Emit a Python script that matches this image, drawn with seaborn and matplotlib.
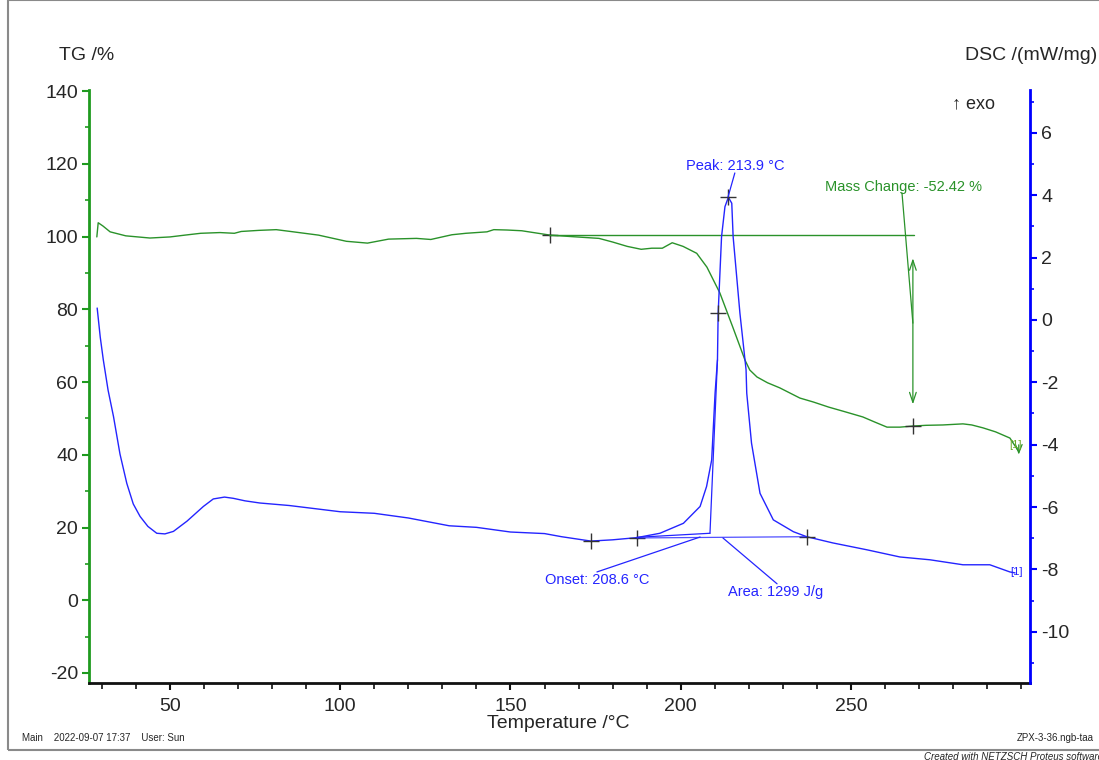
import matplotlib
matplotlib.use("Agg")
import matplotlib.pyplot as plt
from matplotlib.patches import Rectangle
from matplotlib.ticker import MultipleLocator, FixedLocator
import seaborn as sns
import pandas as pd

# TG curve (temperature in degC, mass in %)
tg_temp = [28.5, 28.9, 30.3, 32.4, 37.0, 44.1, 50.0, 54.4, 59.0, 64.7, 68.9, 70.9, 76.0,
           81.2, 85.4, 93.6, 101.8, 108.0, 114.2, 122.4, 126.6, 132.8, 136.9, 143.1,
           145.1, 149.0, 153.3, 161.6, 167.8, 176.0, 180.0, 184.3, 188.4, 191.5, 194.6,
           197.5, 200.7, 204.7, 207.7, 211.5, 215.3, 218.9, 220.3, 222.4, 225.5, 229.1,
           235.0, 239.0, 243.5, 248.0, 253.5, 257.0, 260.6, 264.4, 268.2, 272.0, 277.0,
           282.9, 285.5, 288.8, 292.5, 296.7, 299.0]
tg_mass = [99.9, 103.8, 102.9, 101.3, 100.2, 99.6, 99.9, 100.4, 100.9, 101.1, 100.9, 101.4, 101.7,
           101.9, 101.4, 100.4, 98.7, 98.2, 99.3, 99.5, 99.2, 100.5, 100.9, 101.3,
           101.9, 101.8, 101.6, 100.4, 100.0, 99.5, 98.5, 97.3, 96.5, 96.8, 96.8,
           98.3, 97.3, 95.4, 91.6, 84.5, 75.1, 66.0, 63.3, 61.4, 59.8, 58.4,
           55.6, 54.5, 53.1, 51.9, 50.4, 49.0, 47.6, 47.6, 47.9, 48.1, 48.2,
           48.5, 48.2, 47.4, 46.3, 44.6, 41.3]

# DSC curve (temperature in degC, heat flow in mW/mg)
dsc_temp = [28.6, 29.5, 30.4, 31.8, 33.4, 35.3, 37.3, 39.2, 41.2, 43.5, 46.1, 48.5, 51.0,
            55.0, 59.8, 62.7, 66.0, 68.6, 72.0, 76.4, 85.0,
            100.0, 110.0, 120.0, 132.0, 140.0, 150.0, 160.0, 165.0, 173.6, 180.0, 187.1,
            193.9, 200.8, 205.7, 207.6, 209.1, 210.1, 210.8, 211.0, 212.0, 213.0, 214.0,
            215.0, 215.4, 217.4, 219.2, 219.4, 220.8, 223.3, 227.2, 233.1, 237.0, 244.7,
            254.7, 264.4, 273.2, 282.9, 290.8, 296.7, 298.2]
dsc_flow = [0.38, -0.55, -1.28, -2.25, -3.1, -4.3, -5.24, -5.9, -6.3, -6.62, -6.84, -6.86, -6.78,
            -6.45, -5.98, -5.74, -5.68, -5.72, -5.8, -5.87, -5.95,
            -6.15, -6.2, -6.35, -6.6, -6.65, -6.8, -6.85, -6.95, -7.09, -7.05, -6.98,
            -6.84, -6.52, -5.98, -5.34, -4.49, -2.35, -1.28, 0.21, 2.67, 3.63, 3.93,
            3.74, 2.67, 0.21, -1.6, -2.35, -3.95, -5.56, -6.41, -6.79, -6.95, -7.15,
            -7.37, -7.6, -7.69, -7.85, -7.85, -8.08, -8.11]

# evaluation marks
tg_marks_temp = [161.6, 268.2]
tg_marks_mass = [100.4, 47.98]
dsc_marks_temp = [213.9, 211.0, 173.6, 187.1, 237.0]
dsc_marks_flow = [3.93, 0.21, -7.09, -6.99, -6.95]

temp_ticks = [50, 100, 150, 200, 250]

GREEN = '#2a922a'
GREEN_AX = '#1f9a1f'
BLUE = '#2424ff'
BLUE_AX = '#0000ff'

sns.set_theme(style='ticks')
plt.rcParams['font.family'] = ['Liberation Sans', 'DejaVu Sans']
plt.rcParams['axes.unicode_minus'] = False

fig = plt.figure(figsize=(10.99, 7.6), dpi=100)
ax = fig.add_axes([89 / 1099, 1 - 683 / 760, (1030 - 89) / 1099, (683 - 90) / 760])
ax2 = ax.twinx()

tg_df = pd.DataFrame({'T': tg_temp, 'TG': tg_mass})
dsc_df = pd.DataFrame({'T': dsc_temp, 'DSC': dsc_flow})
sns.lineplot(data=tg_df, x='T', y='TG', ax=ax, color=GREEN, lw=1.0, sort=False, estimator=None)
sns.lineplot(data=dsc_df, x='T', y='DSC', ax=ax2, color=BLUE, lw=1.0, sort=False, estimator=None)

ax.set_xlim(26.2, 302.6)
ax.set_ylim(-22.75, 140.3)
ax2.set_ylim(-11.64, 7.37)
ax.set_xlabel('')
ax.set_ylabel('')
ax2.set_ylabel('')

ax.xaxis.set_major_locator(FixedLocator(temp_ticks))
ax.xaxis.set_minor_locator(MultipleLocator(10))
ax.yaxis.set_major_locator(MultipleLocator(20))
ax.yaxis.set_minor_locator(MultipleLocator(10))
ax2.yaxis.set_major_locator(MultipleLocator(2))
ax2.yaxis.set_minor_locator(MultipleLocator(1))

for a in (ax, ax2):
    a.spines['top'].set_visible(False)
ax.spines['right'].set_visible(False)
ax2.spines['left'].set_visible(False)
ax2.spines['bottom'].set_visible(False)
ax.spines['left'].set_color(GREEN_AX)
ax.spines['left'].set_linewidth(2)
ax.spines['bottom'].set_color('#111111')
ax.spines['bottom'].set_linewidth(2)
ax2.spines['right'].set_color(BLUE_AX)
ax2.spines['right'].set_linewidth(2)

ax.tick_params(axis='x', which='major', length=5, width=1.5, color='#111111', labelsize=14, pad=6)
ax.tick_params(axis='x', which='minor', length=4, width=1.2, color='#111111')
ax.tick_params(axis='y', which='major', length=5, width=1.5, color=GREEN_AX, labelsize=14, pad=3)
ax.tick_params(axis='y', which='minor', length=3, width=1.2, color=GREEN_AX)
ax2.tick_params(axis='y', which='major', length=5, width=1.5, color=BLUE_AX, labelsize=14, pad=3)
ax2.tick_params(axis='y', which='minor', length=3, width=1.2, color=BLUE_AX)

# evaluation crosses
ax.plot(tg_marks_temp, tg_marks_mass, ls='none', marker='+', ms=12, mew=1.0, color='#333333')
ax2.plot(dsc_marks_temp, dsc_marks_flow, ls='none', marker='+', ms=12, mew=1.0, color='#333333')

# mass change evaluation
ax.plot([161.3, 268.5], [100.4, 100.4], color=GREEN, lw=1.0)
ax.annotate('', xy=(268.2, 53.1), xytext=(268.2, 94.8),
            arrowprops=dict(arrowstyle='<->,head_length=0.6,head_width=0.2', color=GREEN, lw=0.9))
ax.plot([265.0, 268.2], [112.0, 76.2], color=GREEN, lw=0.9)
ax.text(242.4, 113.6, 'Mass Change: -52.42 %', color=GREEN, fontsize=10.5, va='center', ha='left')
ax.annotate('', xy=(299.3, 39.3), xytext=(299.3, 43.5),
            arrowprops=dict(arrowstyle='->,head_length=0.5,head_width=0.2', color=GREEN, lw=0.9))
ax.text(298.4, 42.7, '[1]', color='#6aa82a', fontsize=8, ha='center', va='center')

# DSC evaluation
ax2.plot([215.9, 213.9], [4.71, 3.94], color=BLUE, lw=0.9)
ax2.text(215.9, 4.94, 'Peak: 213.9 °C', color=BLUE, fontsize=10.5, ha='center', va='center')
ax2.plot([187.1, 208.6], [-6.97, -6.84], color=BLUE, lw=0.9)
ax2.plot([208.6, 210.8], [-6.84, -1.28], color=BLUE, lw=0.9)
ax2.plot([187.1, 237.0], [-6.99, -6.95], color=BLUE, lw=0.9, alpha=0.8)
ax2.plot([175.4, 205.7], [-8.08, -6.96], color=BLUE, lw=0.9)
ax2.text(160.1, -8.33, 'Onset: 208.6 °C', color=BLUE, fontsize=10.5, ha='left', va='center')
ax2.plot([212.4, 228.3], [-6.99, -8.46], color=BLUE, lw=0.9)
ax2.text(213.9, -8.72, 'Area: 1299 J/g', color=BLUE, fontsize=10.5, ha='left', va='center')
ax2.text(298.6, -8.08, '[1]', color=BLUE, fontsize=8, ha='center', va='center')

# axis titles and page texts
fig.text(87 / 1099, 1 - 56 / 760, 'TG /%', fontsize=14, ha='center', va='center')
fig.text(1097 / 1099, 1 - 56 / 760, 'DSC /(mW/mg)', fontsize=14, ha='right', va='center')
fig.text(558 / 1099, 1 - 723 / 760, 'Temperature /°C', fontsize=14, ha='center', va='center')
fig.text(952 / 1099, 1 - 104 / 760, '↑ exo', fontsize=13, ha='left', va='center')
fig.text(22 / 1099, 1 - 738 / 760, 'Main    2022-09-07 17:37    User: Sun', fontsize=7, ha='left', va='center')
fig.text(1094 / 1099, 1 - 738 / 760, 'ZPX-3-36.ngb-taa', fontsize=7, ha='right', va='center')
fig.text(924 / 1099, 1 - 752 / 760, 'Created with NETZSCH Proteus software', fontsize=7,
         style='italic', ha='left', va='top')

# page frame
fig.patches.append(Rectangle((8 / 1099, 1 - 750 / 760), 1.2, 750 / 760, transform=fig.transFigure,
                             fill=False, edgecolor='#8a8a8a', lw=1.5))

fig.savefig('out.png', dpi=100)
